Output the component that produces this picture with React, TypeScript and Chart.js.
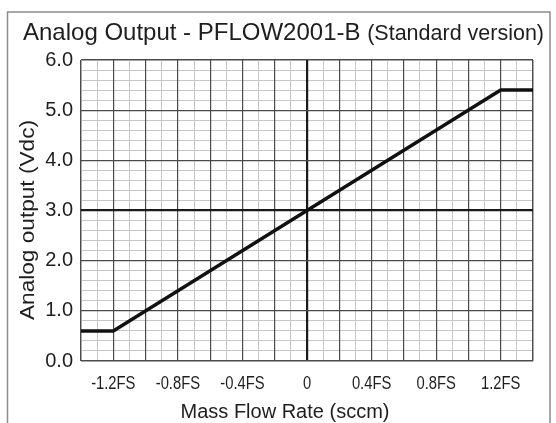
import React, { useEffect, useRef } from "react";
import { Chart, registerables } from "chart.js";

Chart.register(...registerables);

// ---- data ----
const flowFS: number[] = [-1.4, -1.2, 1.2, 1.4];
const outputVdc: number[] = [0.6, 0.6, 5.4, 5.4];
const xTickValues: number[] = [-1.2, -0.8, -0.4, 0, 0.4, 0.8, 1.2];
const xTickLabels: string[] = ["-1.2FS", "-0.8FS", "-0.4FS", "0", "0.4FS", "0.8FS", "1.2FS"];
const titleMain = "Analog Output - PFLOW2001-B";
const titleSub = "(Standard version)";
const xTitle = "Mass Flow Rate (sccm)";
const yTitle = "Analog output (Vdc)";

const SANS = '"Liberation Sans", Arial, Helvetica, sans-serif';
const TEXT = "#1e1e1e";

const decorPlugin = {
  id: "decor",
  beforeDraw(chart: any) {
    const ctx = chart.ctx;
    ctx.save();
    ctx.fillStyle = "#ffffff";
    ctx.fillRect(0, 0, chart.width, chart.height);
    ctx.strokeStyle = "#8c8c8c";
    ctx.lineWidth = 1.5;
    ctx.beginPath();
    ctx.moveTo(7.5, 430);
    ctx.lineTo(7.5, 12);
    ctx.lineTo(550, 12);
    ctx.lineTo(550, 430);
    ctx.stroke();
    ctx.restore();
  },
  afterDraw(chart: any) {
    const ctx = chart.ctx;
    ctx.save();
    ctx.fillStyle = TEXT;
    // main title
    ctx.textBaseline = "alphabetic";
    ctx.textAlign = "left";
    ctx.font = `24px ${SANS}`;
    ctx.fillText(titleMain, 23, 40);
    const w = ctx.measureText(titleMain + " ").width;
    ctx.font = `21.5px ${SANS}`;
    ctx.fillText(titleSub, 23 + w, 40);
    // x tick labels (condensed)
    const xs = chart.scales.x;
    ctx.font = `18px ${SANS}`;
    ctx.textAlign = "center";
    xTickValues.forEach((v, i) => {
      const px = xs.getPixelForValue(v);
      ctx.save();
      ctx.translate(px, 389);
      ctx.scale(0.82, 1);
      ctx.fillText(xTickLabels[i], 0, 0);
      ctx.restore();
    });
    // x title
    ctx.font = `20px ${SANS}`;
    ctx.fillText(xTitle, 285, 418);
    // y title
    ctx.translate(28.5, 220);
    ctx.rotate(-Math.PI / 2);
    ctx.textBaseline = "middle";
    ctx.font = `20px ${SANS}`;
    const tw = ctx.measureText(yTitle).width;
    ctx.scale(200 / tw, 1);
    ctx.fillText(yTitle, 0, 0);
    ctx.restore();
  },
};

function majorColor(v: number, center: number) {
  if (Math.abs(v - center) < 1e-6) return "#1a1a1a";
  return "#4a4a4a";
}
function majorWidth(v: number, center: number) {
  return Math.abs(v - center) < 1e-6 ? 2.2 : 1.2;
}

const minorAxis = (min: number, max: number, step: number, size: "w" | "h") => ({
  type: "linear",
  min,
  max,
  afterFit: (s: any) => {
    if (size === "w") s.width = 0;
    else s.height = 0;
  },
  border: { display: false },
  grid: { drawTicks: false, color: "#c6c6c6", lineWidth: 1 },
  ticks: { display: false, stepSize: step, autoSkip: false },
});

export default function App() {
  const ref = useRef<HTMLCanvasElement | null>(null);
  useEffect(() => {
    if (!ref.current) return;
    const chart = new Chart(ref.current, {
      type: "line",
      data: {
        datasets: [
          {
            data: flowFS.map((x, i) => ({ x, y: outputVdc[i] })),
            borderColor: "#111111",
            borderWidth: 3.5,
            pointRadius: 0,
            fill: false,
            tension: 0,
            xAxisID: "x",
            yAxisID: "y",
          },
        ],
      },
      options: {
        animation: false,
        responsive: false,
        layout: { padding: { top: 60, right: 23, bottom: 0, left: 0 } },
        plugins: { legend: { display: false }, title: { display: false }, tooltip: { enabled: false } },
        scales: {
          xm: { ...minorAxis(-1.4, 1.4, 0.1, "h"), position: "bottom" },
          ym: { ...minorAxis(0, 6, 0.2, "w"), position: "left" },
          x: {
            type: "linear",
            position: "bottom",
            min: -1.4,
            max: 1.4,
            afterFit: (s: any) => {
              s.height = 62;
            },
            border: { display: false },
            grid: {
              drawTicks: false,
              color: (c: any) => majorColor(c.tick ? c.tick.value : 1, 0),
              lineWidth: (c: any) => majorWidth(c.tick ? c.tick.value : 1, 0),
            },
            ticks: { display: false, stepSize: 0.2, autoSkip: false },
          },
          y: {
            type: "linear",
            position: "left",
            min: 0,
            max: 6,
            afterFit: (s: any) => {
              s.width = 81;
            },
            border: { display: false },
            grid: {
              drawTicks: false,
              color: (c: any) => majorColor(c.tick ? c.tick.value : 1, 3),
              lineWidth: (c: any) => majorWidth(c.tick ? c.tick.value : 1, 3),
            },
            ticks: {
              stepSize: 1,
              autoSkip: false,
              padding: 8,
              color: TEXT,
              font: { family: SANS, size: 20 },
              callback: (v: any) => Number(v).toFixed(1),
            },
          },
        },
      },
      plugins: [decorPlugin],
    } as any);
    return () => chart.destroy();
  }, []);
  return (
    <div style={{ position: "absolute", left: 0, top: 0, width: 556, height: 423, background: "#fff" }}>
      <canvas ref={ref} width={556} height={423} style={{ display: "block" }} />
    </div>
  );
}
